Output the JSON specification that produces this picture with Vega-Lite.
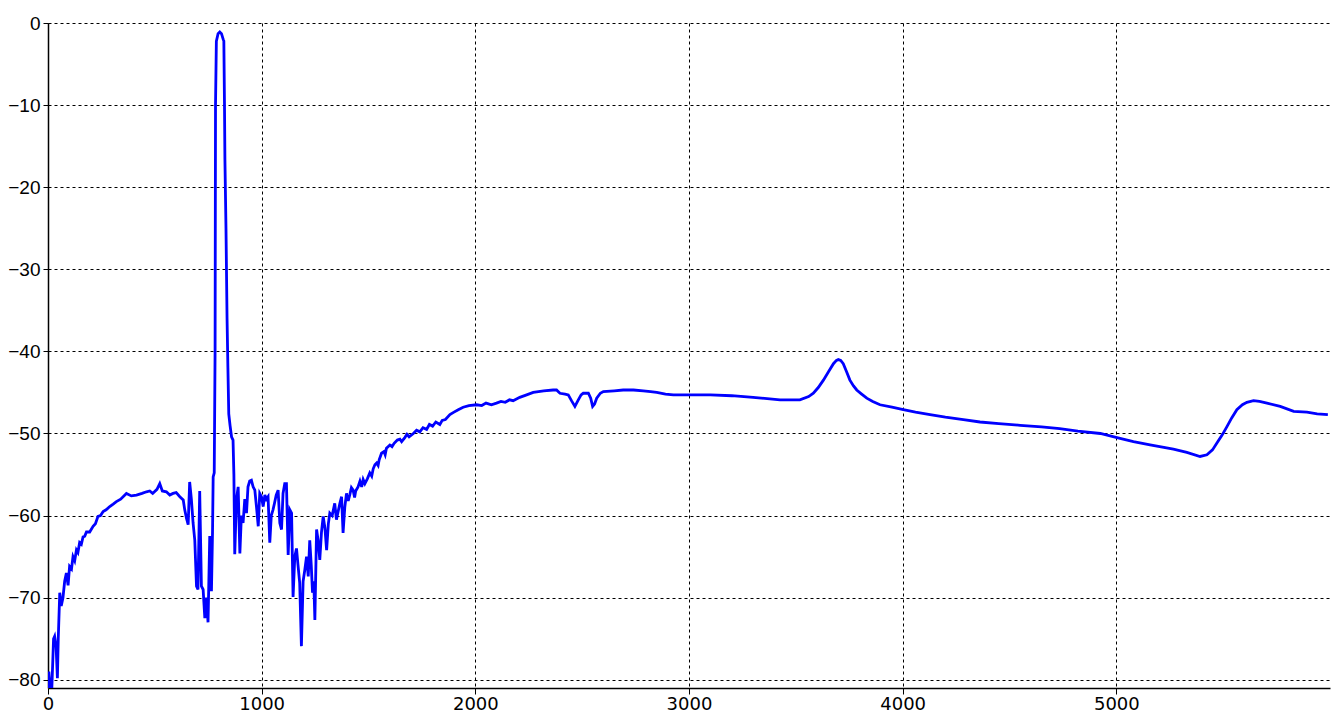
{
  "$schema": "https://vega.github.io/schema/vega-lite/v6.json",
  "width": 1282,
  "height": 665,
  "autosize": "none",
  "padding": {"left": 48, "top": 23, "right": 6, "bottom": 27},
  "background": "white",
  "config": {"view": {"stroke": null}},
  "data": {"values": [
    {"f":0,"db":-81},{"f":4,"db":-79},{"f":10,"db":-81},{"f":18,"db":-81},{"f":26,"db":-75},{"f":31,"db":-74.7},{"f":38,"db":-76},{"f":44,"db":-79.8},{"f":48,"db":-75},{"f":55,"db":-69.4},{"f":62,"db":-71},{"f":70,"db":-70},{"f":78,"db":-68},{"f":86,"db":-67},{"f":94,"db":-68.5},{"f":101,"db":-66.2},{"f":110,"db":-66.5},{"f":117,"db":-65},{"f":125,"db":-65.5},{"f":133,"db":-64.2},{"f":140,"db":-64.5},{"f":148,"db":-63.3},{"f":156,"db":-63.5},{"f":164,"db":-62.6},{"f":172,"db":-62.5},{"f":180,"db":-62},{"f":195,"db":-62},{"f":211,"db":-61.3},{"f":222,"db":-61},{"f":234,"db":-60.1},{"f":246,"db":-60},{"f":258,"db":-59.5},{"f":272,"db":-59.3},{"f":289,"db":-58.9},{"f":305,"db":-58.6},{"f":320,"db":-58.3},{"f":340,"db":-58},{"f":367,"db":-57.3},{"f":390,"db":-57.6},{"f":414,"db":-57.5},{"f":440,"db":-57.3},{"f":461,"db":-57.1},{"f":476,"db":-57},{"f":490,"db":-57.3},{"f":510,"db":-56.8},{"f":523,"db":-56.1},{"f":535,"db":-57},{"f":554,"db":-57.1},{"f":570,"db":-57.5},{"f":585,"db":-57.3},{"f":600,"db":-57.2},{"f":617,"db":-57.7},{"f":633,"db":-58.1},{"f":640,"db":-59.3},{"f":648,"db":-60.3},{"f":656,"db":-61.1},{"f":663,"db":-55.9},{"f":671,"db":-58},{"f":679,"db":-60.9},{"f":687,"db":-63},{"f":695,"db":-68.6},{"f":702,"db":-69},{"f":710,"db":-57},{"f":718,"db":-68.6},{"f":726,"db":-69},{"f":734,"db":-72.5},{"f":742,"db":-70},{"f":749,"db":-73},{"f":757,"db":-62.5},{"f":765,"db":-69.2},{"f":770,"db":-62},{"f":773,"db":-55.3},{"f":778,"db":-54.8},{"f":782,"db":-40},{"f":784,"db":-10},{"f":788,"db":-2.2},{"f":796,"db":-1.3},{"f":804,"db":-1.1},{"f":812,"db":-1.3},{"f":820,"db":-2},{"f":823,"db":-2.2},{"f":826,"db":-10},{"f":828,"db":-16.6},{"f":833,"db":-25},{"f":838,"db":-36},{"f":842,"db":-42},{"f":846,"db":-47.6},{"f":852,"db":-49},{"f":859,"db":-50.4},{"f":866,"db":-50.8},{"f":870,"db":-55},{"f":874,"db":-64.7},{"f":882,"db":-58},{"f":890,"db":-56.5},{"f":898,"db":-64.6},{"f":905,"db":-60},{"f":913,"db":-60.9},{"f":921,"db":-58},{"f":929,"db":-59.7},{"f":936,"db":-56.5},{"f":944,"db":-55.8},{"f":952,"db":-55.7},{"f":960,"db":-56.5},{"f":968,"db":-56.9},{"f":976,"db":-59},{"f":984,"db":-61.3},{"f":991,"db":-57.3},{"f":999,"db":-57.7},{"f":1007,"db":-58.9},{"f":1015,"db":-57.5},{"f":1022,"db":-58},{"f":1030,"db":-57.7},{"f":1038,"db":-63.3},{"f":1045,"db":-60},{"f":1053,"db":-59.3},{"f":1060,"db":-58.5},{"f":1068,"db":-57.5},{"f":1077,"db":-56.9},{"f":1085,"db":-60.9},{"f":1093,"db":-61.7},{"f":1100,"db":-57.3},{"f":1108,"db":-56.1},{"f":1116,"db":-56.1},{"f":1124,"db":-64.8},{"f":1132,"db":-59.3},{"f":1140,"db":-59.7},{"f":1147,"db":-69.9},{"f":1155,"db":-65},{"f":1163,"db":-64},{"f":1170,"db":-66},{"f":1178,"db":-68.2},{"f":1186,"db":-75.9},{"f":1194,"db":-68},{"f":1202,"db":-66.6},{"f":1210,"db":-65},{"f":1218,"db":-67.4},{"f":1225,"db":-63},{"f":1232,"db":-66},{"f":1238,"db":-69.4},{"f":1244,"db":-68},{"f":1249,"db":-72.7},{"f":1257,"db":-61.7},{"f":1264,"db":-63},{"f":1272,"db":-65.4},{"f":1280,"db":-62},{"f":1288,"db":-60.1},{"f":1296,"db":-61.5},{"f":1304,"db":-64.2},{"f":1312,"db":-61},{"f":1319,"db":-59.7},{"f":1330,"db":-60},{"f":1342,"db":-58.5},{"f":1350,"db":-60.5},{"f":1358,"db":-59.5},{"f":1366,"db":-58.5},{"f":1374,"db":-57.7},{"f":1381,"db":-62.1},{"f":1389,"db":-59},{"f":1397,"db":-57.3},{"f":1405,"db":-58.2},{"f":1412,"db":-57.5},{"f":1420,"db":-56.6},{"f":1428,"db":-56.9},{"f":1435,"db":-57.8},{"f":1440,"db":-57},{"f":1451,"db":-56.5},{"f":1460,"db":-55.8},{"f":1468,"db":-56.5},{"f":1475,"db":-55.6},{"f":1483,"db":-56.1},{"f":1495,"db":-55.5},{"f":1506,"db":-54.8},{"f":1515,"db":-55.2},{"f":1522,"db":-54.3},{"f":1530,"db":-53.8},{"f":1538,"db":-53.6},{"f":1545,"db":-53.9},{"f":1550,"db":-53.2},{"f":1561,"db":-52.4},{"f":1572,"db":-52.2},{"f":1578,"db":-52.6},{"f":1584,"db":-51.8},{"f":1600,"db":-51.4},{"f":1610,"db":-51.6},{"f":1620,"db":-51.2},{"f":1635,"db":-50.8},{"f":1647,"db":-50.7},{"f":1655,"db":-51},{"f":1670,"db":-50.5},{"f":1680,"db":-50.1},{"f":1690,"db":-50.4},{"f":1710,"db":-50},{"f":1725,"db":-49.6},{"f":1740,"db":-49.8},{"f":1755,"db":-49.3},{"f":1772,"db":-49.5},{"f":1785,"db":-48.9},{"f":1800,"db":-49.1},{"f":1815,"db":-48.6},{"f":1834,"db":-48.9},{"f":1845,"db":-48.4},{"f":1860,"db":-48.3},{"f":1881,"db":-47.7},{"f":1900,"db":-47.4},{"f":1920,"db":-47.1},{"f":1943,"db":-46.8},{"f":1970,"db":-46.6},{"f":2006,"db":-46.5},{"f":2030,"db":-46.6},{"f":2050,"db":-46.3},{"f":2075,"db":-46.5},{"f":2099,"db":-46.3},{"f":2120,"db":-46.1},{"f":2140,"db":-46.2},{"f":2160,"db":-45.9},{"f":2177,"db":-46},{"f":2208,"db":-45.6},{"f":2240,"db":-45.3},{"f":2271,"db":-45},{"f":2320,"db":-44.8},{"f":2364,"db":-44.7},{"f":2380,"db":-44.7},{"f":2396,"db":-45.1},{"f":2420,"db":-45.2},{"f":2435,"db":-45.3},{"f":2450,"db":-46},{"f":2466,"db":-46.7},{"f":2474,"db":-46.3},{"f":2482,"db":-45.9},{"f":2495,"db":-45.3},{"f":2505,"db":-45.1},{"f":2529,"db":-45.1},{"f":2540,"db":-45.7},{"f":2549,"db":-46.7},{"f":2558,"db":-46.4},{"f":2568,"db":-45.7},{"f":2585,"db":-45.1},{"f":2599,"db":-44.9},{"f":2650,"db":-44.8},{"f":2692,"db":-44.7},{"f":2740,"db":-44.7},{"f":2786,"db":-44.8},{"f":2820,"db":-44.9},{"f":2849,"db":-45},{"f":2890,"db":-45.2},{"f":2927,"db":-45.3},{"f":3000,"db":-45.3},{"f":3100,"db":-45.3},{"f":3200,"db":-45.4},{"f":3300,"db":-45.6},{"f":3426,"db":-45.9},{"f":3519,"db":-45.9},{"f":3560,"db":-45.5},{"f":3582,"db":-45.1},{"f":3605,"db":-44.4},{"f":3629,"db":-43.5},{"f":3655,"db":-42.4},{"f":3676,"db":-41.5},{"f":3690,"db":-41.1},{"f":3699,"db":-41},{"f":3710,"db":-41.1},{"f":3722,"db":-41.5},{"f":3738,"db":-42.5},{"f":3753,"db":-43.5},{"f":3770,"db":-44.2},{"f":3785,"db":-44.7},{"f":3808,"db":-45.2},{"f":3832,"db":-45.7},{"f":3860,"db":-46.1},{"f":3894,"db":-46.5},{"f":3950,"db":-46.8},{"f":4003,"db":-47.1},{"f":4060,"db":-47.4},{"f":4128,"db":-47.7},{"f":4200,"db":-48},{"f":4284,"db":-48.3},{"f":4362,"db":-48.6},{"f":4450,"db":-48.8},{"f":4550,"db":-49},{"f":4650,"db":-49.2},{"f":4735,"db":-49.4},{"f":4820,"db":-49.7},{"f":4925,"db":-50},{"f":5003,"db":-50.5},{"f":5080,"db":-51},{"f":5158,"db":-51.4},{"f":5267,"db":-51.9},{"f":5330,"db":-52.3},{"f":5392,"db":-52.8},{"f":5424,"db":-52.6},{"f":5450,"db":-52},{"f":5470,"db":-51.2},{"f":5495,"db":-50.2},{"f":5517,"db":-49.2},{"f":5540,"db":-48.1},{"f":5564,"db":-47.1},{"f":5590,"db":-46.5},{"f":5611,"db":-46.2},{"f":5642,"db":-46},{"f":5670,"db":-46.1},{"f":5705,"db":-46.3},{"f":5767,"db":-46.7},{"f":5830,"db":-47.3},{"f":5892,"db":-47.4},{"f":5940,"db":-47.6},{"f":5990,"db":-47.7}
  ]},
  "mark": {"type": "line", "color": "#0000ff", "strokeWidth": 2.8, "clip": true},
  "encoding": {
    "x": {
      "field": "f", "type": "quantitative",
      "scale": {"domain": [0, 6000], "nice": false, "zero": false},
      "axis": {
        "title": null,
        "values": [0, 1000, 2000, 3000, 4000, 5000],
        "format": "d",
        "grid": true, "gridColor": "#000000", "gridDash": [3, 3], "gridWidth": 1, "gridOpacity": 1,
        "domainColor": "#000000", "domainWidth": 1.5,
        "tickColor": "#000000", "tickSize": 6, "tickWidth": 1,
        "labelFont": "DejaVu Sans", "labelFontSize": 18, "labelColor": "#000000",
        "labelPadding": 1, "labelFlush": false, "labelOverlap": false
      }
    },
    "y": {
      "field": "db", "type": "quantitative",
      "scale": {"domain": [-81, 0], "nice": false, "zero": false},
      "axis": {
        "title": null,
        "values": [-80, -70, -60, -50, -40, -30, -20, -10, 0],
        "grid": true, "gridColor": "#000000", "gridDash": [3, 3], "gridWidth": 1, "gridOpacity": 1,
        "domainColor": "#000000", "domainWidth": 1.5,
        "tickColor": "#000000", "tickSize": 5, "tickWidth": 1,
        "labelFont": "Liberation Sans", "labelFontSize": 19, "labelColor": "#000000",
        "labelPadding": 3, "labelFlush": false, "labelOverlap": false
      }
    }
  }
}
